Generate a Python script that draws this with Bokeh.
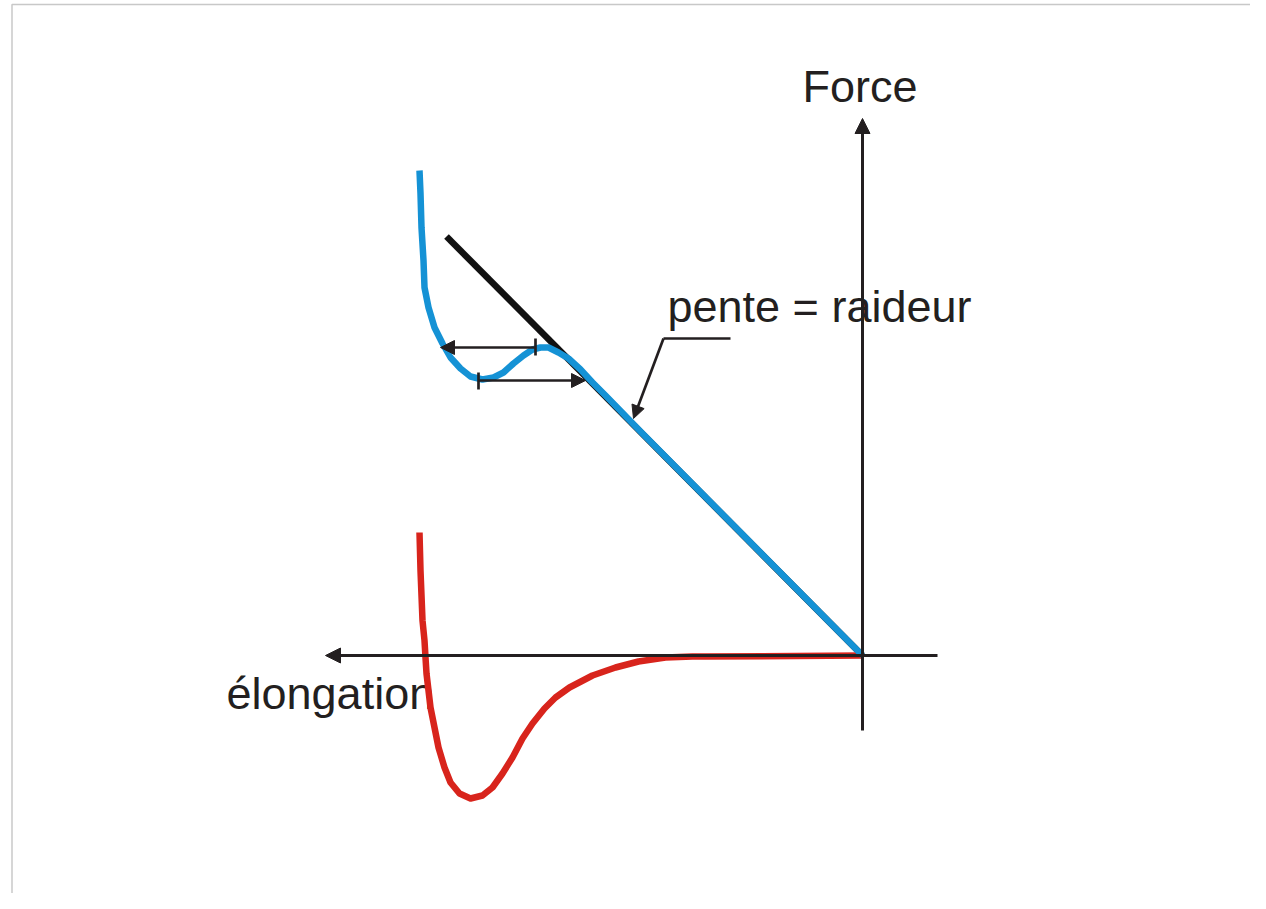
from bokeh.plotting import figure
from bokeh.models import Range1d, Arrow, NormalHead
from bokeh.core.properties import value
from bokeh.embed import file_html
from bokeh.resources import INLINE

# ---- data (elongation grows to the left, force up; origin at the axes' crossing) ----
blue_elong = [443, 442, 441, 439, 438, 434, 428, 420, 412, 402, 392, 380, 369, 359, 349,
              339, 330, 322, 314, 304, 294, 282, 270, 257, 222, 0]
blue_force = [485, 462, 428, 395, 368, 348, 328, 312, 298, 287, 279, 276, 278, 283, 292,
              300, 306, 308, 308, 303, 297, 286, 273, 260, 224, 0]

red_elong = [443, 442, 440, 438, 437, 436, 434, 432, 428, 424, 418, 412, 403, 392, 380,
             370, 360, 350, 340, 330, 318, 307, 293, 270, 247, 224, 197, 170, 157, 0]
red_force = [123, 85, 35, 15, -2, -18, -35, -52, -72, -92, -112, -127, -138, -143, -140,
             -132, -118, -102, -83, -68, -53, -42, -32, -20, -12, -6, -2, -1, -1, 0]

tangent_elong = [416, 0]
tangent_force = [419, 0]

labels = ["Force", "pente = raideur", "élongation"]

FONT = value("Liberation Sans")
INK = "#231f20"
BLUE = "#1592d5"
RED = "#d8241c"

p = figure(width=1250, height=893, x_range=Range1d(862, -388), y_range=Range1d(-238, 655),
           x_axis_type=None, y_axis_type=None, toolbar_location=None, output_backend="svg",
           min_border=0, outline_line_color=None, background_fill_color="white",
           border_fill_color="white")
p.grid.visible = False

# faint frame edges (top and left)
p.line([850.5, 850.5, -388], [-238, 651, 651], line_color="#c8c8c8", line_width=1.5)

# labels (drawn first so curves pass over them)
p.text(x=[60, 195, 636], y=[569, 349, -38], text=labels, text_font=FONT,
       text_font_size="45px", text_color=INK, text_align="left", text_baseline="alphabetic")

# axes with arrows
p.add_layout(Arrow(end=NormalHead(size=15, fill_color=INK, line_color=INK, line_width=1),
                   x_start=-75, y_start=0, x_end=537, y_end=0, line_color=INK, line_width=3))
p.add_layout(Arrow(end=NormalHead(size=15, fill_color=INK, line_color=INK, line_width=1),
                   x_start=0, y_start=-75, x_end=0, y_end=537, line_color=INK, line_width=3))

# tangent (stiffness) line
p.line(tangent_elong, tangent_force, line_color="#111111", line_width=6.5, line_cap="butt")

# curves
p.line(red_elong, red_force, line_color=RED, line_width=6.5, line_join="round", line_cap="butt")
p.line(blue_elong, blue_force, line_color=BLUE, line_width=6.5, line_join="round", line_cap="butt")

# horizontal double arrows with end ticks
p.add_layout(Arrow(end=NormalHead(size=14, fill_color=INK, line_color=INK, line_width=1),
                   x_start=327, y_start=308, x_end=422, y_end=308, line_color=INK, line_width=2.7))
p.add_layout(Arrow(end=NormalHead(size=14, fill_color=INK, line_color=INK, line_width=1),
                   x_start=384, y_start=275, x_end=277, y_end=275, line_color=INK, line_width=2.7))
p.segment(x0=[327, 384], y0=[317, 283], x1=[327, 384], y1=[300, 266], line_color=INK, line_width=2.7)

# pointer to the slope
p.line([132, 199], [317, 317], line_color=INK, line_width=2.7)
p.add_layout(Arrow(end=NormalHead(size=13, fill_color=INK, line_color=INK, line_width=1),
                   x_start=199, y_start=317, x_end=229, y_end=237, line_color=INK, line_width=2.7))

open("out.html", "w").write(file_html(p, INLINE))
